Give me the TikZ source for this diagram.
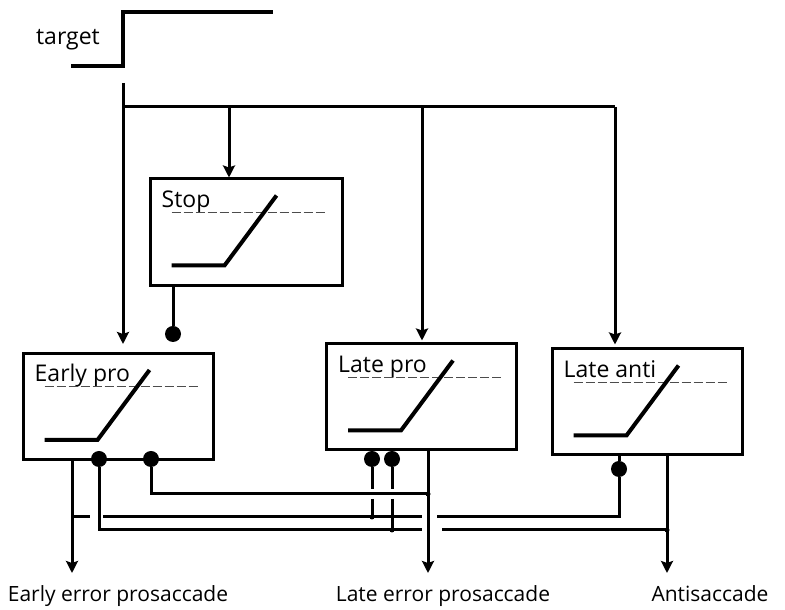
\documentclass[tikz,border=0pt]{standalone}
\usepackage{fontspec}
\setmainfont{Open Sans}
\usetikzlibrary{arrows.meta,calc}

\begin{document}
\begin{tikzpicture}[x=1pt,y=1pt,>={Stealth[length=12pt,width=12pt,inset=2pt]},
    every node/.style={font=\fontsize{23}{26}\selectfont},
    outlbl/.style={anchor=base,font=\fontsize{21}{24}\selectfont},
    blk/.style={draw,line width=3pt,minimum width=190pt,minimum height=106pt,inner sep=0pt},
    wire/.style={line width=3pt},
    inh/.style={fill,circle,inner sep=0pt,minimum size=16pt},
    jn/.style={fill,circle,inner sep=0pt,minimum size=5pt}]
  \useasboundingbox (0,0) rectangle (785,610);
  % target step
  \node[anchor=base east,inner sep=0pt] (tgt) at (100,565) {target};
  \draw[line width=4pt] (71,544) -- (123,544) -- (123,598) -- (273,598);
  % boxes
  \node[blk,minimum width=192pt,minimum height=107pt] (stop) at (246,377.5) {};
  \node[blk] (early) at (118,203.5) {};
  \node[blk] (latepro) at (421.5,213) {};
  \node[blk] (lateanti) at (647,208) {};
  \foreach \b/\t in {stop/Stop,early/Early pro,latepro/Late pro,lateanti/Late anti}{
    \node[anchor=base west,inner sep=0pt] (\b-lbl) at ($(\b.north west)+(13,-30)$) {\t};
    \draw[black!70,line width=1pt,dash pattern=on 9pt off 3pt] ($(\b.north west)+(23,-35)$) -- +(154,0);
    \draw[line width=4pt] ($(\b.north west)+(23,-88)$) -- +(53,0) -- +(105,70);
  }
  % input bus
  \coordinate (bus) at (123,527);
  \coordinate (split) at (123,503);
  \coordinate (t1) at (229,503);
  \coordinate (t2) at (422,503);
  \coordinate (t3) at (615,503);
  \draw[wire,->,shorten >=8pt] (bus) -- (bus |- early.north);
  \draw[wire] (split) -- (t3);
  \draw[wire,->] (t1) -- (t1 |- stop.north);
  \draw[wire,->,shorten >=2pt] (t2) -- (t2 |- latepro.north);
  \draw[wire,->,shorten >=3pt] (t3) -- (t3 |- lateanti.north);
  % inhibitory ends
  \node[inh] (sinh) at (173,276) {};
  \node[inh] (e1) at (99,151) {};
  \node[inh] (e2) at (151,151) {};
  \node[inh] (l1) at (372,151) {};
  \node[inh] (l2) at (392,151) {};
  \node[inh] (ai) at (619,141) {};
  \draw[wire] (sinh) -- (sinh |- stop.south);
  \draw[wire] (ai) -- (ai |- lateanti.south);
  % outputs
  \node[outlbl] (outE) at (118,8) {Early error prosaccade};
  \node[outlbl] (outL) at (443,8) {Late error prosaccade};
  \node[outlbl] (outA) at (710,8) {Antisaccade};
  \coordinate (eo) at (72,37);
  \coordinate (lo) at (428,37);
  \coordinate (ao) at (667,37);
  \draw[wire,->] (eo |- early.south) -- (eo);
  \draw[wire,->] (lo |- latepro.south) -- (lo);
  \draw[wire,->] (ao |- lateanti.south) -- (ao);
  % wiring
  \draw[wire] (e2) -- (151,116) -- (428,116);
  \draw[wire] (72,93) -- (90,93) (103,93) -- (422,93) (437,93) -- (619,93) -- (ai);
  \draw[wire] (e1) -- (99,80) -- (422,80) (442,80) -- (667,80);
  \draw[wire] (l1) -- (372,121) (372,111) -- (372,93);
  \draw[wire] (l2) -- (392,121) (392,111) -- (392,80);
  \node[jn] at (428,116) {};
  \node[jn] at (372,93) {};
  \node[jn] at (392,80) {};
  \node[jn] at (667,80) {};
\end{tikzpicture}
\end{document}
